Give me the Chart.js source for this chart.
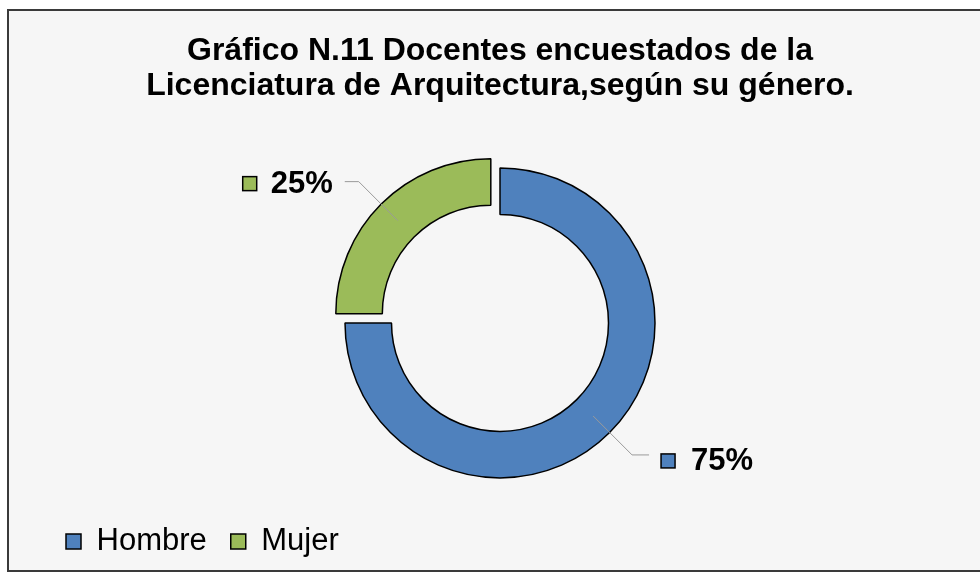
<!DOCTYPE html>
<html>
<head>
<meta charset="utf-8">
<script src="https://cdn.jsdelivr.net/npm/chart.js@4.4.0/dist/chart.umd.min.js"></script>
<style>
  body { margin: 0; background: #fff; }
  #wrap { width: 980px; height: 577px; }
</style>
</head>
<body>
<div id="wrap"><canvas id="genderChart" width="980" height="577"></canvas></div>
<script>
// datos del grafico
var categorias = ['Hombre', 'Mujer'];
var porcentajes = [75, 25];
var colores = ['#4F81BD', '#9BBB59'];
var separacion = [0, 52]; // la porcion de mujer va separada
var titulo = ['Gráfico N.11 Docentes encuestados de la', 'Licenciatura de Arquitectura,según su género.'];

// fondo gris claro con marco
var marcoPlugin = {
  id: 'marco',
  beforeDraw: function (chart) {
    var ctx = chart.ctx;
    ctx.save();
    ctx.fillStyle = '#ffffff';
    ctx.fillRect(0, 0, chart.width, chart.height);
    ctx.fillStyle = '#f6f6f6';
    ctx.fillRect(8, 10, chart.width, chart.height - 16);
    ctx.strokeStyle = '#3a3a3a';
    ctx.lineWidth = 2;
    ctx.strokeRect(8, 10, chart.width, chart.height - 16);
    ctx.restore();
  }
};

// etiquetas de porcentaje con linea guia
var etiquetasPlugin = {
  id: 'etiquetas',
  afterDatasetsDraw: function (chart) {
    var ctx = chart.ctx;
    var meta = chart.getDatasetMeta(0);
    var total = porcentajes.reduce(function (a, b) { return a + b; }, 0);
    meta.data.forEach(function (arc, i) {
      var p = arc.getProps(['x', 'y', 'startAngle', 'endAngle', 'innerRadius', 'outerRadius']);
      var h = (p.startAngle + p.endAngle) / 2;
      var t = (arc.options.offset || 0) / 4;
      var rMid = (p.innerRadius + p.outerRadius) / 2;
      var cx = Math.cos(h), cy = Math.sin(h);
      var ax = p.x + cx * (t + rMid), ay = p.y + cy * (t + rMid);
      var ex = ax + cx * 55, ey = ay + cy * 55;
      var dir = cx < 0 ? -1 : 1;
      var hx = ex + dir * (dir > 0 ? 17 : 14);

      ctx.save();
      ctx.strokeStyle = '#9a9a9a';
      ctx.lineWidth = 1;
      ctx.beginPath();
      ctx.moveTo(ax, ay);
      ctx.lineTo(ex, ey);
      ctx.lineTo(hx, ey);
      ctx.stroke();

      var txt = Math.round(porcentajes[i] / total * 100) + '%';
      ctx.font = 'bold 31px "Liberation Sans", Arial, sans-serif';
      ctx.fillStyle = '#000';
      ctx.textBaseline = 'middle';
      var tw = ctx.measureText(txt).width;
      var box = 14;
      var mx, tx;
      if (dir > 0) {
        mx = hx + 12;
        tx = mx + box + 16;
      } else {
        tx = hx - 12 - tw;
        mx = tx - 14 - box;
      }
      var ty = ey + (dir > 0 ? 6 : 2);
      ctx.fillStyle = colores[i];
      ctx.fillRect(mx, ty - box / 2, box, box);
      ctx.strokeStyle = '#000';
      ctx.lineWidth = 1.5;
      ctx.strokeRect(mx, ty - box / 2, box, box);
      ctx.fillStyle = '#000';
      ctx.textAlign = 'left';
      ctx.fillText(txt, tx, ty + 1);
      ctx.restore();
    });
  }
};

var ctx = document.getElementById('genderChart').getContext('2d');
var grafico = new Chart(ctx, {
  type: 'doughnut',
  data: {
    labels: categorias,
    datasets: [{
      data: porcentajes,
      backgroundColor: colores,
      borderColor: '#000000',
      borderWidth: 1.5,
      offset: separacion
    }]
  },
  options: {
    responsive: false,
    animation: false,
    radius: 155,
    cutout: '70%',
    layout: { padding: { left: 42, right: 22, top: 0, bottom: 10 } },
    plugins: {
      title: {
        display: true,
        text: titulo,
        color: '#000',
        font: { family: '"Liberation Sans", Arial, sans-serif', size: 32, weight: 'bold', lineHeight: 1.09 },
        padding: { top: 34, bottom: 40 }
      },
      legend: {
        position: 'bottom',
        align: 'start',
        labels: {
          color: '#000',
          boxWidth: 15,
          boxHeight: 15,
          padding: 24,
          font: { family: '"Liberation Sans", Arial, sans-serif', size: 31 }
        }
      },
      tooltip: { enabled: false }
    }
  },
  plugins: [marcoPlugin, etiquetasPlugin]
});
</script>
</body>
</html>
